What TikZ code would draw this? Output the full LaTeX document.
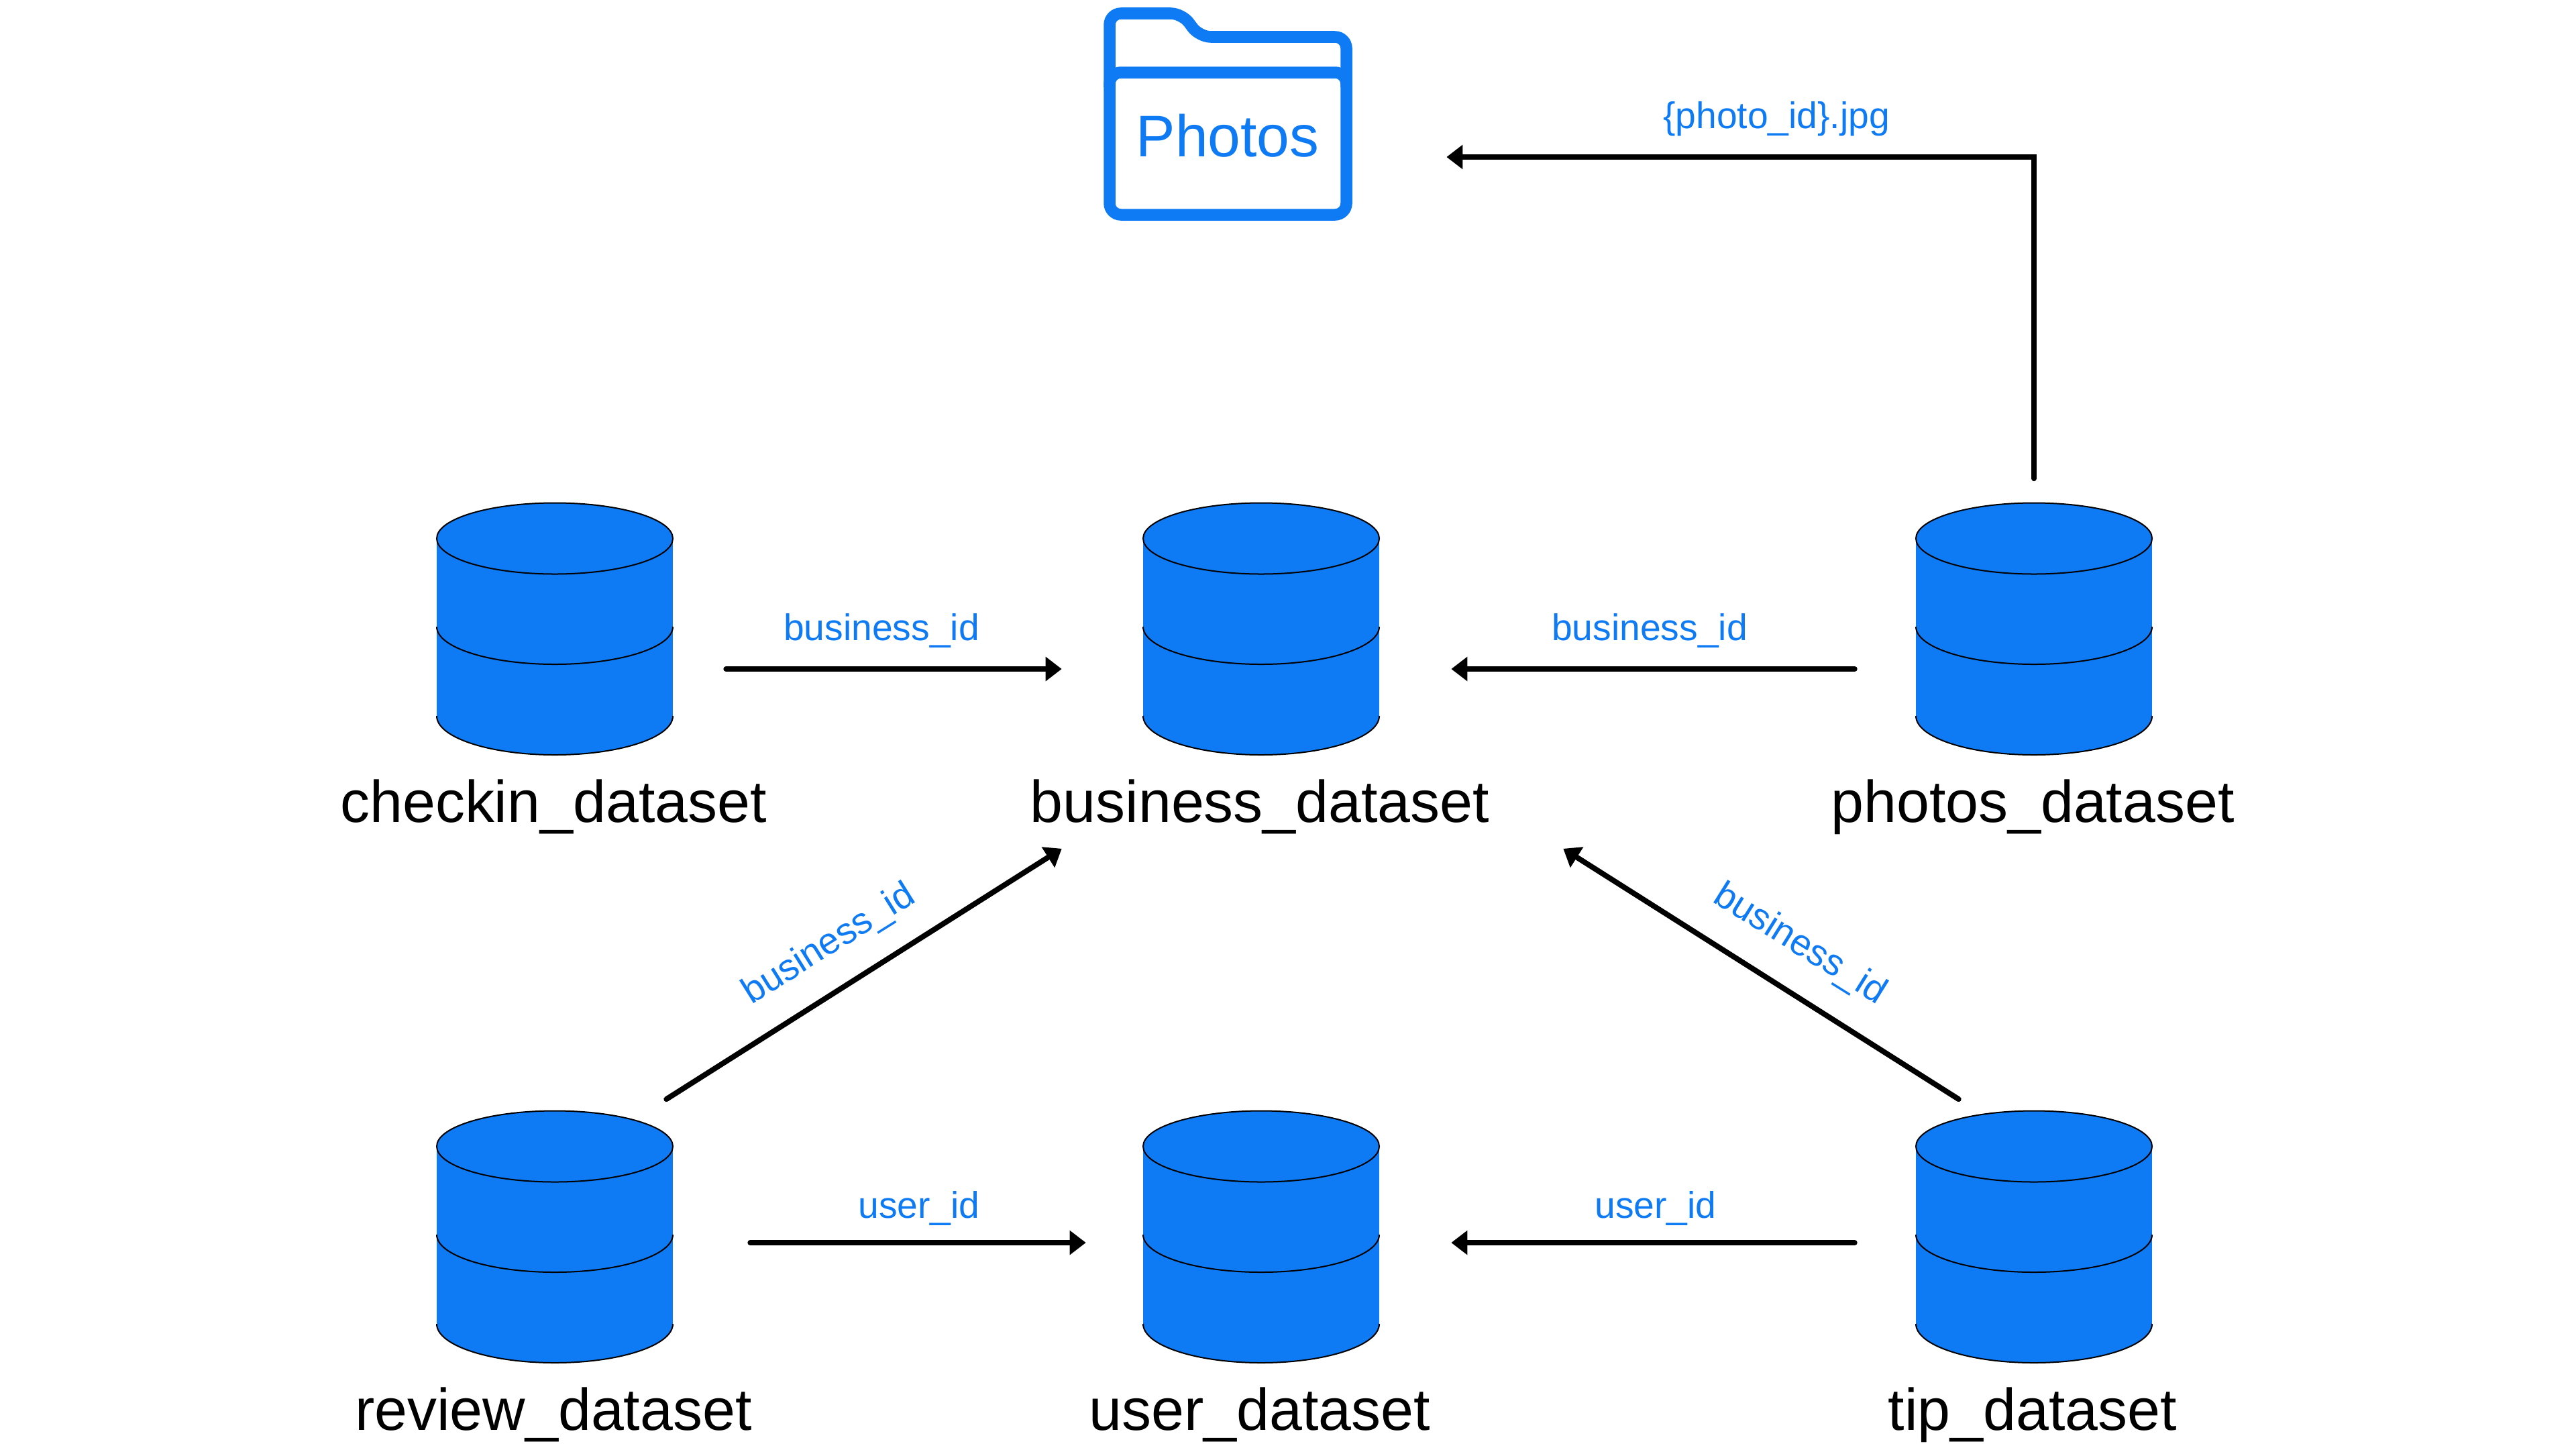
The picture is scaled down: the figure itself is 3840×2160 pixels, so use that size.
\documentclass[tikz,border=0pt]{standalone}
\usepackage{fontspec}
\setmainfont{Liberation Sans}
\usetikzlibrary{arrows.meta}
\usetikzlibrary{calc}
\definecolor{dbblue}{RGB}{14,122,244}
\tikzset{
	dbbox/.style={minimum width=3.53cm, minimum height=4.9cm, inner sep=0pt},
	dbname/.style={anchor=base, font=\fontsize{25}{25}\selectfont},
	idname/.style={anchor=base, text=dbblue, font=\fontsize{15.7}{15.7}\selectfont},
	link/.style={line width=0.8mm, line cap=round, -{Triangle[length=2.4mm,width=3.5mm]}},
	folderline/.style={draw=dbblue, line width=1.75mm, rounded corners=1.7mm},
}
% name, x, y of the box centre, text
\newcommand{\drawdb}[4]{
	\node[dbbox] (#1) at (#2, #3) {};
	\begin{scope}[shift={(#2, #3)}]
		\fill[dbblue] (-176, -192.5) rectangle (176, 72);
		\fill[dbblue] (-176, 72) arc[start angle=180, end angle=0, x radius=176, y radius=58];
		\draw[line width=0.2mm, fill=dbblue] (0, -192.5) ellipse[x radius=176, y radius=53];
		\draw[line width=0.2mm] (-176, -61) arc[start angle=180, end angle=0, x radius=176, y radius=56];
		\draw[line width=0.2mm] (-176, 72) arc[start angle=180, end angle=0, x radius=176, y radius=58];
	\end{scope}
	\node[dbname] (#1text) at (#2 - 2, #3 + 230) {#4};
}

\begin{document}
\begin{tikzpicture}[x=0.01cm, y=-0.01cm]

\useasboundingbox (0, 0) rectangle (3840, 2160);

\drawdb{checkin}{827}{995}{checkin\_dataset};
\drawdb{business}{1880}{995}{business\_dataset};
\drawdb{photos}{3032}{995}{photos\_dataset};
\drawdb{review}{827}{1901}{review\_dataset};
\drawdb{user}{1880}{1901}{user\_dataset};
\drawdb{tip}{3032}{1901}{tip\_dataset};

% folder
\node[minimum width=3.71cm, minimum height=3.18cm, inner sep=0pt] (folder) at (1830, 170) {};
\draw[folderline] (1654, 130) -- (1654, 20) -- (1762, 20) -- (1788, 55) -- (2007, 55) -- (2007, 130);
\draw[folderline] (1654, 108) rectangle (2007, 320);
\node[anchor=base, text=dbblue, font=\fontsize{24.9}{24.9}\selectfont] (foldertext) at (1830, 233) {Photos};

\draw[link] ($(photos.north) + (0, -36)$) |- ($(folder.east) + (140, 64)$);
\node[idname] (photoid) at (2648, 191) {\{photo\_id\}.jpg};

\draw[link] ($(checkin.east) + (78, 2)$) -- ($(business.west) + (-120, 2)$);
\node[idname] (checkinid) at (1314, 954) {business\_id};

\draw[link] ($(photos.west) + (-90, 2)$) -- ($(business.east) + (106, 2)$);
\node[idname] (photosid) at (2459, 954) {business\_id};

\draw[link] ($(review.east) + (114, -49)$) -- ($(user.west) + (-84, -49)$);
\node[idname] (reviewid) at (1370, 1815) {user\_id};

\draw[link] ($(tip.west) + (-90, -49)$) -- ($(user.east) + (106, -49)$);
\node[idname] (tipid) at (2468, 1815) {user\_id};

\draw[link] ($(review.north east) + (-11, -17)$) -- ($(business.south west) + (-120, 24)$);
\node[idname, anchor=center, rotate=32] (reviewbid) at (1236, 1408) {business\_id};

\draw[link] ($(tip.north west) + (65, -17)$) -- ($(business.south east) + (273, 24)$);
\node[idname, anchor=center, rotate=-32] (tipbid) at (2683, 1408) {business\_id};

\end{tikzpicture}
\end{document}
